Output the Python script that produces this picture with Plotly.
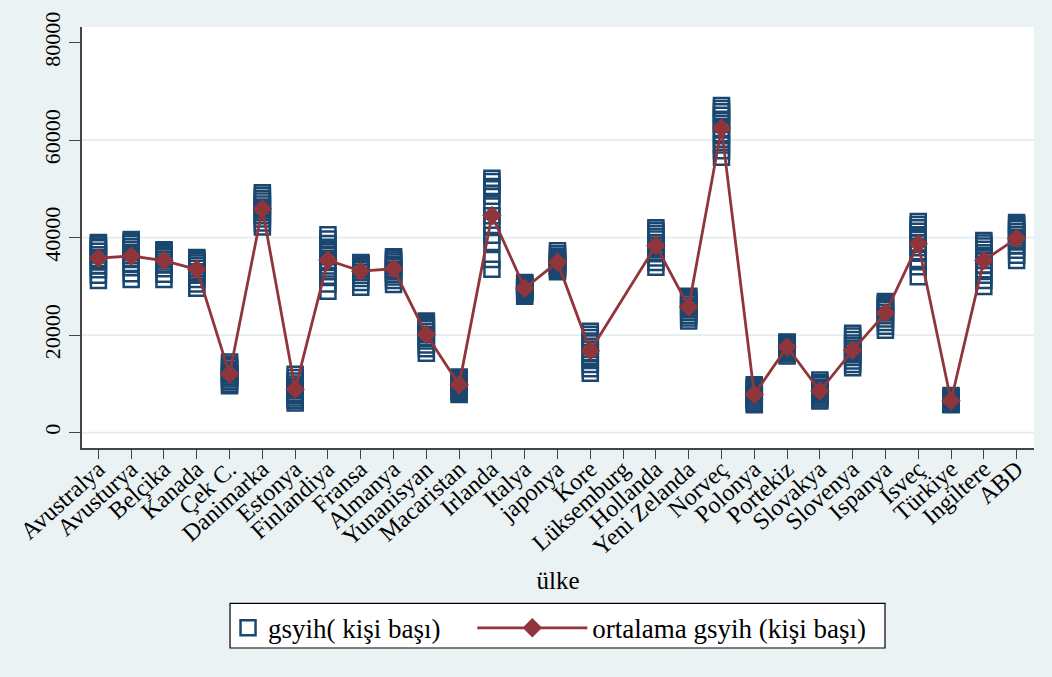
import plotly.graph_objects as go

# Countries on the horizontal axis (in plotting order)
countries = [
    "Avustralya", "Avusturya", "Belçika", "Kanada", "Çek C.", "Danimarka",
    "Estonya", "Finlandiya", "Fransa", "Almanya", "Yunanisyan", "Macaristan",
    "Irlanda", "Italya", "japonya", "Kore", "Lüksemburg", "Hollanda",
    "Yeni Zelanda", "Norveç", "Polonya", "Portekiz", "Slovakya", "Slovenya",
    "Ispanya", "Isveç", "Türkiye", "Ingiltere", "ABD",
]

# Yearly GDP per capita observations for each country
avustralya = [31200, 32300, 33400, 34200, 35000, 35700, 36500, 37200, 37900, 38300, 38700, 39000]
avusturya = [31400, 32600, 33800, 34700, 35500, 36300, 37000, 37600, 38200, 38800, 39200, 39600]
belcika = [31400, 32500, 33600, 34400, 35000, 35500, 36000, 36400, 36800, 37100, 37300, 37500]
kanada = [29600, 30500, 31400, 32300, 33000, 33700, 34300, 34800, 35200, 35500, 35700, 35900]
cek = [9600, 10000, 10500, 11000, 11400, 11800, 12200, 12600, 13000, 13500, 14000, 14500]
danimarka = [42200, 43000, 43800, 44500, 45100, 45700, 46300, 46900, 47500, 48100, 48700, 49200]
estonya = [6100, 6600, 7100, 7600, 8100, 8600, 9100, 9500, 10000, 10600, 11300, 12000]
finlandiya = [29000, 30500, 31800, 33000, 34200, 35300, 36300, 37200, 38000, 38800, 39700, 40600]
fransa = [29800, 30800, 31600, 32300, 32900, 33400, 33800, 34100, 34400, 34600, 34800, 34900]
almanya = [30400, 31200, 31900, 32500, 33000, 33500, 34000, 34500, 35000, 35400, 35800, 36100]
yunanistan = [16300, 17200, 18000, 18800, 19500, 20100, 20700, 21300, 21800, 22200, 22600, 22900]
macaristan = [7800, 8200, 8600, 9000, 9400, 9800, 10100, 10400, 10700, 11000, 11200, 11400]
irlanda = [33500, 35500, 39000, 40500, 42500, 44500, 46500, 48500, 50000, 50500, 51500, 52200]
italya = [28000, 28400, 28800, 29100, 29400, 29600, 29800, 30000, 30200, 30400, 30600, 30800]
japonya = [33000, 33400, 33800, 34100, 34400, 34700, 35000, 35300, 35700, 36200, 36700, 37300]
kore = [12200, 13100, 14000, 14800, 15600, 16400, 17600, 18400, 18800, 19500, 20200, 20800]
luksemburg = []  # no observations within the plotted range
hollanda = [33900, 34900, 35800, 36700, 37500, 38300, 39000, 39700, 40300, 40900, 41500, 42000]
yeni_zelanda = [22900, 23500, 24100, 24700, 25200, 25700, 26200, 26700, 27100, 27500, 27800, 28000]
norvec = [56500, 57800, 59000, 60200, 61300, 62400, 63400, 64300, 65100, 65800, 66500, 67100]
polonya = [5700, 6100, 6500, 6900, 7300, 7700, 8100, 8500, 8800, 9100, 9500, 9800]
portekiz = [15700, 16200, 16700, 17100, 17500, 17800, 18000, 18200, 18300, 18400, 18500, 18600]
slovakya = [6500, 6900, 7300, 7700, 8000, 8300, 8600, 8900, 9300, 9800, 10300, 10800]
slovenya = [13300, 14000, 14700, 15400, 16000, 16600, 17200, 17800, 18400, 19100, 19800, 20400]
ispanya = [21000, 21800, 22600, 23300, 24000, 24600, 25200, 25700, 26100, 26400, 26700, 26900]
isvec = [32000, 34000, 35500, 36800, 37900, 38900, 39800, 40600, 41300, 42000, 42700, 43300]
turkiye = [5700, 5800, 6000, 6100, 6300, 6400, 6600, 6700, 6900, 7100, 7300, 7600]
ingiltere = [30000, 31200, 32300, 33400, 34400, 35300, 36100, 36900, 37600, 38300, 38900, 39400]
abd = [35300, 36400, 37400, 38300, 39100, 39900, 40600, 41200, 41800, 42300, 42700, 43100]

y_ticks = [0, 20000, 40000, 60000, 80000]
grid_values = [0, 20000, 40000, 60000]

gdp_series = [
    avustralya, avusturya, belcika, kanada, cek, danimarka, estonya, finlandiya,
    fransa, almanya, yunanistan, macaristan, irlanda, italya, japonya, kore,
    luksemburg, hollanda, yeni_zelanda, norvec, polonya, portekiz, slovakya,
    slovenya, ispanya, isvec, turkiye, ingiltere, abd,
]

NAVY = "#1A476F"
MAROON = "#90353B"
BG = "#EAF2F3"
FONT = "Liberation Serif, Times New Roman, serif"

obs_x = [c for c, vals in zip(countries, gdp_series) for _ in vals]
obs_y = [v for vals in gdp_series for v in vals]
mean_y = [sum(vals) / len(vals) if vals else None for vals in gdp_series]

fig = go.Figure()

fig.add_trace(go.Scatter(
    x=obs_x, y=obs_y, mode="markers", name="gsyih( kişi başı)",
    legend="legend",
    marker=dict(symbol="square-open", size=15, color=NAVY,
                line=dict(color=NAVY, width=2.5)),
))

fig.add_trace(go.Scatter(
    x=countries, y=mean_y, mode="lines+markers",
    name="ortalama gsyih (kişi başı)", connectgaps=True, legend="legend2",
    line=dict(color=MAROON, width=2.8),
    marker=dict(symbol="diamond", size=15, color=MAROON, line=dict(width=0)),
))

# light horizontal grid lines
for g in grid_values:
    fig.add_shape(type="line", xref="paper", x0=0, x1=1, yref="y", y0=g, y1=g,
                  line=dict(color="#E3ECEE", width=1.6), layer="below")

# common frame around both legend entries
fig.add_shape(type="rect", xref="paper", yref="paper",
              x0=0.1555, x1=0.8435, y0=-0.475, y1=-0.369,
              fillcolor="white", line=dict(color="black", width=1.2), layer="above")

legend_common = dict(
    orientation="h", yanchor="top", y=-0.37, xanchor="left",
    bgcolor="rgba(0,0,0,0)", borderwidth=0,
    font=dict(family=FONT, size=27, color="black"),
)

fig.update_layout(
    width=1052, height=677,
    paper_bgcolor=BG, plot_bgcolor="white",
    margin=dict(l=82, r=18, t=25, b=229),
    font=dict(family=FONT, color="black"),
    showlegend=True,
    legend=dict(x=0.1534, itemwidth=30, **legend_common),
    legend2=dict(x=0.410, itemwidth=110, **legend_common),
)

fig.update_xaxes(
    type="category", categoryorder="array", categoryarray=countries,
    range=[-0.5, 28.53], showgrid=False, zeroline=False,
    showline=True, linecolor="#444444", linewidth=1.5,
    ticks="outside", ticklen=9, tickwidth=1.3, tickcolor="#444444",
    tickangle=-42, ticklabelstandoff=-13,
    tickfont=dict(family=FONT, size=24, color="black"),
    title=dict(text="ülke", font=dict(family=FONT, size=25, color="black"), standoff=12),
)

fig.update_yaxes(
    range=[-3150, 83200], tickvals=y_ticks, ticktext=[str(v) for v in y_ticks],
    showgrid=False, zeroline=False,
    showline=True, linecolor="#444444", linewidth=1.5,
    ticks="outside", ticklen=11, tickwidth=1.3, tickcolor="#444444",
    tickangle=-90, tickfont=dict(family=FONT, size=22, color="black"),
)

fig.write_html("out.html")
